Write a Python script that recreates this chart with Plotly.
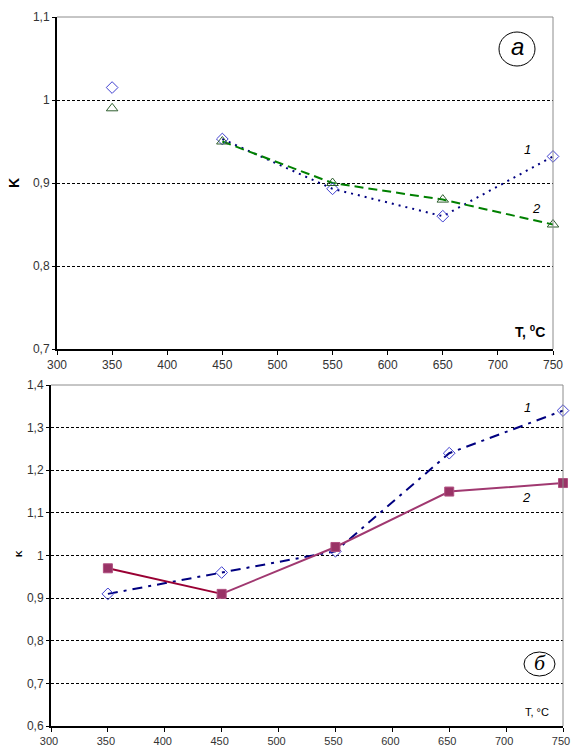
import plotly.graph_objects as go

# Temperatures, °C
temp = [350, 450, 550, 650, 750]

# Panel (a): coefficient K
k_a1 = [1.015, 0.953, 0.893, 0.860, 0.932]
k_a2 = [0.990, 0.950, 0.900, 0.880, 0.850]

# Panel (б): coefficient K
k_b1 = [0.91, 0.96, 1.01, 1.24, 1.34]
k_b2 = [0.97, 0.91, 1.02, 1.15, 1.17]

x_ticks = [300, 350, 400, 450, 500, 550, 600, 650, 700, 750]
ya_ticks = [0.7, 0.8, 0.9, 1.0, 1.1]
ya_text = ["0,7", "0,8", "0,9", "1", "1,1"]
yb_ticks = [0.6, 0.7, 0.8, 0.9, 1.0, 1.1, 1.2, 1.3, 1.4]
yb_text = ["0,6", "0,7", "0,8", "0,9", "1", "1,1", "1,2", "1,3", "1,4"]

W, H = 571, 749

def px_x(p):
    return p / W

def px_y(p):
    return 1 - p / H

NAVY = "#000080"
GREEN = "#008000"
PLUM = "#993366"

fig = go.Figure()

# ---- panel (a) ----
fig.add_trace(go.Scatter(x=temp[1:], y=k_a1[1:], mode="lines",
                         line=dict(color=NAVY, width=2, dash="2px,5px"),
                         xaxis="x", yaxis="y", hoverinfo="skip"))
fig.add_trace(go.Scatter(x=temp[1:], y=k_a2[1:], mode="lines",
                         line=dict(color=GREEN, width=2, dash="9px,5px"),
                         xaxis="x", yaxis="y", hoverinfo="skip"))
fig.add_trace(go.Scatter(x=temp, y=k_a1, mode="markers",
                         marker=dict(symbol="diamond-open", size=9,
                                     color="#4040D0", line=dict(width=1)),
                         xaxis="x", yaxis="y", cliponaxis=False))
fig.add_trace(go.Scatter(x=temp, y=k_a2, mode="markers",
                         marker=dict(symbol="triangle-up-open", size=10,
                                     color="#2F5F2F", line=dict(width=1)),
                         xaxis="x", yaxis="y", cliponaxis=False))

# ---- panel (б) ----
fig.add_trace(go.Scatter(x=temp, y=k_b1, mode="lines+markers",
                         line=dict(color=NAVY, width=2, dash="10px,6px,3px,6px"),
                         marker=dict(symbol="diamond-open", size=9,
                                     color="#4040D0", line=dict(width=1)),
                         xaxis="x2", yaxis="y2", cliponaxis=False))
fig.add_trace(go.Scatter(x=temp[:2], y=k_b2[:2], mode="lines",
                         line=dict(color="#990033", width=2),
                         xaxis="x2", yaxis="y2", hoverinfo="skip"))
fig.add_trace(go.Scatter(x=temp[1:], y=k_b2[1:], mode="lines",
                         line=dict(color="#A03870", width=2),
                         xaxis="x2", yaxis="y2", hoverinfo="skip"))
fig.add_trace(go.Scatter(x=temp, y=k_b2, mode="markers",
                         marker=dict(symbol="square", size=9, color=PLUM,
                                     line=dict(width=1, color="#B05080")),
                         xaxis="x2", yaxis="y2", cliponaxis=False))

tick_font = dict(family="Liberation Sans, Arial", size=12, color="#333333")
tick_font_b = dict(family="Liberation Sans, Arial", size=11, color="#333333")

common_x = dict(range=[300, 750], tickvals=x_ticks, showgrid=False,
                showline=True, linecolor="black", linewidth=2,
                ticks="outside", ticklen=4, tickwidth=1, tickcolor="black",
                zeroline=False, automargin=False,
                ticklabeloverflow="allow", fixedrange=True)
common_y = dict(showgrid=True, gridcolor="black", gridwidth=1,
                griddash="3px,2px", showline=True, linecolor="black",
                linewidth=2, ticks="outside", ticklen=3, tickwidth=1,
                tickcolor="black", tickfont=tick_font, zeroline=False,
                automargin=False, ticklabeloverflow="allow", fixedrange=True)

xa = [px_x(57), px_x(553)]
ya = [px_y(349), px_y(17)]
xb = [px_x(51), px_x(563)]
yb = [px_y(726), px_y(385)]

fig.update_layout(
    width=W, height=H,
    margin=dict(l=0, r=0, t=0, b=0),
    template="none",
    paper_bgcolor="white", plot_bgcolor="white",
    showlegend=False,
    xaxis=dict(domain=xa, anchor="y", tickfont=tick_font, **common_x),
    yaxis=dict(domain=ya, anchor="x", range=[0.7, 1.1],
               tickvals=ya_ticks, ticktext=ya_text, **common_y),
    xaxis2=dict(domain=xb, anchor="y2", tickfont=tick_font_b,
                ticklabelshift=-2, **common_x),
    yaxis2=dict(domain=yb, anchor="x2", range=[0.6, 1.4],
                tickvals=yb_ticks, ticktext=yb_text, **common_y),
)

# Gray top and right frame lines of both panels
for xr, yr in (("x", "y"), ("x2", "y2")):
    fig.add_shape(type="line", xref=f"{xr} domain", yref=f"{yr} domain",
                  x0=0, x1=1, y0=1, y1=1, line=dict(color="#8C8C8C", width=1))
    fig.add_shape(type="line", xref=f"{xr} domain", yref=f"{yr} domain",
                  x0=1, x1=1, y0=0, y1=1, line=dict(color="#8C8C8C", width=1))

# Panel letters in circles
fig.add_shape(type="circle", xref="paper", yref="paper",
              x0=px_x(499), x1=px_x(535), y0=px_y(66), y1=px_y(32),
              line=dict(color="black", width=1))
fig.add_shape(type="circle", xref="paper", yref="paper",
              x0=px_x(524), x1=px_x(555), y0=px_y(676), y1=px_y(652),
              line=dict(color="black", width=1))

def label(x, y, text, size, family="Liberation Sans, Arial", angle=0, **kw):
    fig.add_annotation(xref="paper", yref="paper", x=px_x(x), y=px_y(y),
                       text=text, showarrow=False, textangle=angle,
                       xanchor="center", yanchor="middle",
                       font=dict(family=family, size=size, color="black"), **kw)

label(517, 47, "<i>a</i>", 24)
label(540, 662, "<i>б</i>", 22, family="Liberation Serif, Times New Roman")

# Curve numbers
label(527, 150, "<i>1</i>", 13)
label(536, 208, "<i>2</i>", 13)
label(527, 407, "<i>1</i>", 13)
label(526, 497, "<i>2</i>", 13)

# Axis titles
label(14, 183, "<b>K</b>", 14, angle=-90)
label(19, 554, "<b>K</b>", 9, angle=-90)
label(530, 331, "<b>T, <sup>0</sup>C</b>", 14)
label(537, 712, "T, °C", 11)

fig.write_html("out.html")
